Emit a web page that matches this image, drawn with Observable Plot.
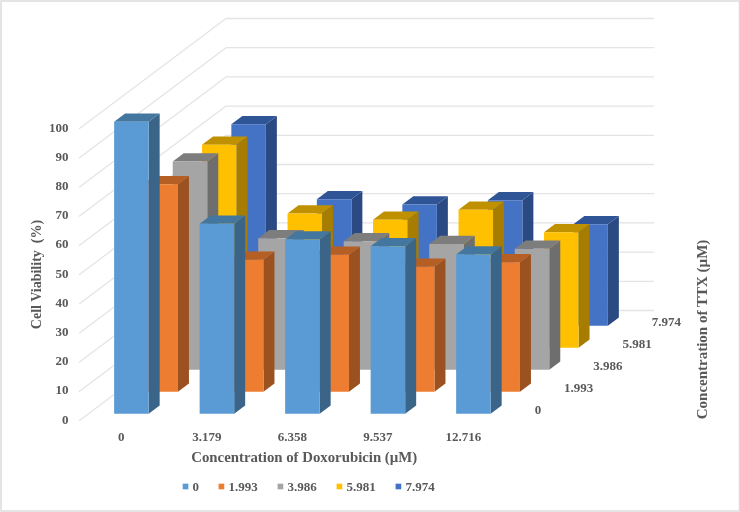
<!DOCTYPE html>
<html>
<head>
<meta charset="utf-8">
<style>html,body{margin:0;padding:0;background:#fff}svg{display:block;filter:blur(0.35px)}</style>
<script src="https://cdn.jsdelivr.net/npm/d3@7"></script>
<script src="https://cdn.jsdelivr.net/npm/@observablehq/plot@0.6"></script>
</head>
<body>
<div id="chart"></div>
<script>
const doxorubicin = ["0", "3.179", "6.358", "9.537", "12.716"];
const ttx = ["0", "1.993", "3.986", "5.981", "7.974"];
const ttx0 = [100, 65, 59.6, 57.3, 54.5];
const ttx1993 = [71, 45.2, 46.9, 42.8, 44.3];
const ttx3986 = [71.3, 45, 44, 43, 41.4];
const ttx5981 = [69.5, 45.9, 43.8, 47.2, 39.5];
const ttx7974 = [69, 43.3, 41.5, 42.9, 34.7];
const seriesValues = [ttx0, ttx1993, ttx3986, ttx5981, ttx7974];
const viabilityTicks = [0, 10, 20, 30, 40, 50, 60, 70, 80, 90, 100];
const frontColors = ["#5b9bd5", "#ed7d31", "#a5a5a5", "#ffc000", "#4472c4"];
const sideColors = ["#3a6589", "#9c5220", "#6e6e6e", "#a67d00", "#2b4a83"];
const topColors = ["#44779f", "#b55f25", "#7d7d7d", "#bf9000", "#2f5597"];

// oblique projection expressed in data units
const skewX = 0.3427, skewY = 7.534;
const px = (c, s) => c + s * skewX;
const py = (v, s) => v + s * skewY;
const barW = [0.298, 0.702], barD = [0.3125, 0.6875];

const faces = [];
function face(id, color, pts) {
  for (const [c, s, v] of pts) faces.push({id, color, x: px(c, s), y: py(v, s)});
}
for (let j = ttx.length - 1; j >= 0; --j) {
  for (let i = doxorubicin.length - 1; i >= 0; --i) {
    const v = seriesValues[j][i];
    const c0 = i + barW[0], c1 = i + barW[1], s0 = j + barD[0], s1 = j + barD[1];
    face(`s${j}${i}`, sideColors[j], [[c1, s0, 0], [c1, s1, 0], [c1, s1, v], [c1, s0, v]]);
    face(`t${j}${i}`, topColors[j], [[c0, s0, v], [c1, s0, v], [c1, s1, v], [c0, s1, v]]);
    face(`f${j}${i}`, frontColors[j], [[c0, s0, 0], [c1, s0, 0], [c1, s0, v], [c0, s0, v]]);
  }
}
const nC = doxorubicin.length, nS = ttx.length;
const grid = [];
for (const v of viabilityTicks) {
  grid.push({id: v, x: px(0, 0), y: py(v, 0)}, {id: v, x: px(0, nS), y: py(v, nS)}, {id: v, x: px(nC, nS), y: py(v, nS)});
}
const ink = "#595959";
const serif = "'Liberation Serif', serif";
// legend keys advance by the length of each label, in category units
const legendAt = d3.cumsum([1.24, ...ttx.slice(0, -1).map(t => 0.3525 + 0.0675 * t.length)]);
const legendKeys = ttx.map((t, j) => ({t, j, x: legendAt[j]}));
const legendY = -22.6;

const chart = Plot.plot({
  width: 740, height: 512,
  margin: 0,
  style: {fontFamily: serif, background: "#fff"},
  x: {type: "linear", domain: [-79 / 85.5, 661 / 85.5], range: [0, 740], axis: null},
  y: {type: "linear", domain: [-92 / 2.92, 420 / 2.92], range: [512, 0], axis: null},
  color: {type: "identity"},
  marks: [
    Plot.frame({stroke: "#dcdcdc", strokeWidth: 1.5, insetLeft: 0.5, insetTop: 0.5, insetRight: 1, insetBottom: 1.5}),
    Plot.line(grid, {x: "x", y: "y", z: "id", stroke: "#e4e4e4", strokeWidth: 1.3}),
    Plot.line(faces, {x: "x", y: "y", z: "id", fill: "color", stroke: "none"}),
    Plot.text(viabilityTicks, {x: px(0, 0), y: d => d, text: d => String(d), textAnchor: "end", dx: -11, dy: -1, fontSize: 13, fontWeight: "bold", fill: ink}),
    Plot.text(doxorubicin, {x: (d, i) => i + 0.5, y: 0, text: d => d, dx: -1, dy: 16, fontSize: 13, fontWeight: "bold", fill: ink}),
    Plot.text(ttx, {x: (d, j) => px(nC, j + 0.5), y: (d, j) => py(0, j + 0.5), text: d => d, textAnchor: "start", dx: 13, fontSize: 13, fontWeight: "bold", fill: ink}),
    Plot.text(["Concentration of Doxorubicin (µM)"], {x: px(2.5, 0), y: 0, dx: 11, dy: 37, fontSize: 14.8, fontWeight: "bold", fill: ink}),
    Plot.text(["Cell Viability  (%)"], {x: px(0, 0), y: 50, dx: -43, rotate: -90, fontSize: 14, fontWeight: "bold", fill: ink}),
    Plot.text(["Concentration of TTX (µM)"], {x: px(nC, nS), y: py(0, 0), dx: 49, dy: -91, rotate: -90, fontSize: 15, fontWeight: "bold", fill: ink}),
    Plot.dot(legendKeys, {x: "x", y: legendY, symbol: "square", r: 3.2, fill: d => frontColors[d.j], stroke: "none"}),
    Plot.text(legendKeys, {x: "x", y: legendY, text: "t", textAnchor: "start", dx: 7, fontSize: 13, fontWeight: "bold", fill: ink})
  ]
});
document.getElementById("chart").appendChild(chart);
</script>
</body>
</html>
